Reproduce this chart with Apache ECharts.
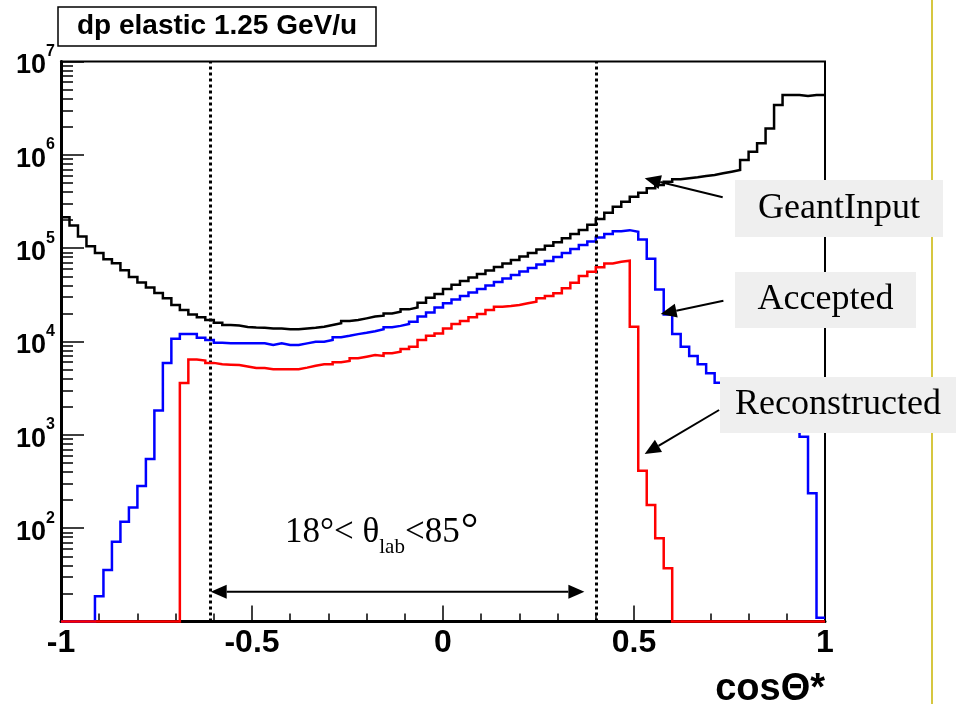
<!DOCTYPE html>
<html><head><meta charset="utf-8">
<script src="https://cdn.jsdelivr.net/npm/echarts@6/dist/echarts.min.js"></script>
<style>html,body{margin:0;padding:0;background:#fff}#c{width:956px;height:704px}</style>
</head><body><div id="c"></div>
<script>
// ---- data ----
const nBins = 90, xMin = -1, xMax = 1;
const yMin = 10, yMax = 1e7;
const titleText = 'dp elastic 1.25 GeV/u';
const xAxisTitle = 'cosΘ*';
const seriesNames = ['GeantInput', 'Accepted', 'Reconstructed'];
const cutLines = [-0.608, 0.403];
const geantInput = [
  2.15e5,1.75e5,1.33e5,1.05e5,8.9e4,7.6e4,6.9e4,5.8e4,4.9e4,4.3e4,
  3.8e4,3.3e4,2.9e4,2.46e4,2.17e4,1.95e4,1.82e4,1.70e4,1.59e4,1.50e4,
  1.48e4,1.43e4,1.41e4,1.40e4,1.38e4,1.38e4,1.35e4,1.35e4,1.38e4,1.40e4,
  1.44e4,1.50e4,1.57e4,1.66e4,1.70e4,1.77e4,1.85e4,1.89e4,2.00e4,2.09e4,
  2.21e4,2.32e4,2.60e4,2.95e4,3.23e4,3.65e4,4.05e4,4.45e4,4.85e4,5.29e4,
  5.77e4,6.29e4,6.85e4,7.47e4,8.15e4,8.88e4,9.68e4,1.06e5,1.16e5,1.28e5,
  1.42e5,1.57e5,1.78e5,2.05e5,2.40e5,2.78e5,3.15e5,3.56e5,3.93e5,4.38e5,
  4.75e5,5.16e5,5.47e5,5.61e5,5.74e5,5.93e5,6.08e5,6.34e5,6.60e5,6.88e5,
  8.8e5,1.08e6,1.33e6,1.92e6,3.42e6,4.37e6,4.37e6,4.27e6,4.37e6,4.37e6
];
const accepted = [
  0,0,0,0,18.7,35.6,71.7,117,167,283,
  551,1820,5870,1.07e4,1.20e4,1.20e4,1.10e4,1.04e4,9.7e3,9.55e3,
  9.55e3,9.55e3,9.55e3,9.55e3,9.16e3,9.55e3,9.16e3,9.16e3,9.55e3,9.95e3,
  9.95e3,1.04e4,1.11e4,1.15e4,1.20e4,1.24e4,1.29e4,1.35e4,1.42e4,1.47e4,
  1.54e4,1.63e4,1.85e4,2.05e4,2.32e4,2.57e4,2.81e4,3.07e4,3.35e4,3.65e4,
  3.98e4,4.34e4,4.73e4,5.16e4,5.62e4,6.13e4,6.68e4,7.28e4,8.04e4,8.87e4,
  9.79e4,1.08e5,1.18e5,1.30e5,1.42e5,1.52e5,1.56e5,1.50e5,1.24e5,7.7e4,
  3.6e4,1.95e4,1.20e4,8.8e3,7.0e3,5.7e3,4.56e3,3.62e3,3.2e3,2.9e3,
  2.6e3,2.4e3,2.2e3,2.0e3,1.8e3,1.6e3,1.3e3,955,236,11
];
const reconstructed = [
  0,0,0,0,0,0,0,0,0,0,
  0,0,0,0,3.6e3,6.4e3,6.25e3,5.9e3,5.7e3,5.65e3,
  5.6e3,5.4e3,5.2e3,5.2e3,5.05e3,5.05e3,5.05e3,5.05e3,5.25e3,5.5e3,
  5.69e3,5.69e3,5.98e3,6.2e3,6.6e3,6.88e3,7.16e3,7.0e3,7.48e3,7.78e3,
  8.3e3,8.8e3,1.04e4,1.15e4,1.22e4,1.38e4,1.54e4,1.66e4,1.82e4,1.97e4,
  2.17e4,2.36e4,2.40e4,2.46e4,2.57e4,2.67e4,2.90e4,3.07e4,3.28e4,3.72e4,
  4.27e4,5.03e4,5.6e4,6.24e4,6.87e4,7.16e4,7.34e4,1.44e4,413,177,
  77.8,37.2,0,0,0,0,0,0,0,0,
  0,0,0,0,0,0,0,0,0,0
];

// ---- helpers ----
function steps(vals) {
  const w = (xMax - xMin) / nBins, pts = [];
  vals.forEach((v, k) => {
    const y = Math.max(v, yMin);
    pts.push([xMin + k * w, y], [xMin + (k + 1) * w, y]);
  });
  return pts;
}
const minorLog = [];
for (let d = 1; d < 7; d++) for (let m = 2; m <= 9; m++) minorLog.push(Math.log10(m) + d);

const SANS = '"Liberation Sans", Arial, Helvetica, sans-serif';
const SERIF = '"Liberation Serif", "Times New Roman", serif';
const mctx = document.createElement('canvas').getContext('2d');
function tw(text, font) { mctx.font = font; return mctx.measureText(text).width; }

function arrowHead(x2, y2, ux, uy, len, hw) {
  const bx = x2 - ux * len, by = y2 - uy * len;
  return { type: 'polygon', z: 100, shape: { points: [[x2, y2], [bx - uy * hw, by + ux * hw], [bx + uy * hw, by - ux * hw]] }, style: { fill: '#000' } };
}
function arrow(x1, y1, x2, y2, both) {
  const len = 16, hw = 7;
  const dx = x2 - x1, dy = y2 - y1, L = Math.hypot(dx, dy), ux = dx / L, uy = dy / L;
  const els = [
    { type: 'line', z: 100, shape: { x1: both ? x1 + ux * len : x1, y1: both ? y1 + uy * len : y1, x2: x2 - ux * len, y2: y2 - uy * len }, style: { stroke: '#000', lineWidth: 2 } },
    arrowHead(x2, y2, ux, uy, len, hw)
  ];
  if (both) els.push(arrowHead(x1, y1, -ux, -uy, len, hw));
  return els;
}
function labelBox(x, y, w, h, text) {
  return [
    { type: 'rect', z: 100, shape: { x, y, width: w, height: h }, style: { fill: '#efefef' } },
    { type: 'text', z: 101, x: x + w / 2, y: y + h / 2, style: { text, fill: '#000', font: '36px ' + SERIF, align: 'center', verticalAlign: 'middle' } }
  ];
}
// angular-range annotation, built from measured pieces
function rangeText(x, yMid) {
  const fBig = '35px ' + SERIF, fSub = '21px ' + SERIF, fDeg = '44px ' + SERIF;
  const parts = [
    { t: '18°< θ', f: fBig, dy: 0 },
    { t: 'lab', f: fSub, dy: 14 },
    { t: '<85', f: fBig, dy: 0 },
    { t: '°', f: fDeg, dy: -2 }
  ];
  const els = [];
  let cx = x;
  parts.forEach(p => {
    els.push({ type: 'text', z: 101, x: cx, y: yMid + p.dy, style: { text: p.t, font: p.f, fill: '#000', align: 'left', verticalAlign: 'middle' } });
    cx += tw(p.t, p.f) + (p.t === '<85' ? 1 : 0);
  });
  return els;
}

const chart = echarts.init(document.getElementById('c'), null, { renderer: 'canvas' });
const lineSeries = (name, vals, color, extra) => Object.assign({
  name, type: 'line', data: steps(vals), xAxisIndex: 0, yAxisIndex: 0,
  showSymbol: false, symbol: 'none', clip: false, animation: false,
  lineStyle: { color, width: 2.5, join: 'miter' }
}, extra || {});

chart.setOption({
  animation: false,
  title: {
    text: titleText, left: 58, top: 7, padding: [5, 19],
    borderColor: '#000', borderWidth: 1.5, backgroundColor: '#fff',
    textStyle: { fontFamily: SANS, fontWeight: 'bold', fontSize: 28, lineHeight: 29, color: '#000' }
  },
  grid: {
    left: 61, right: 131, top: 61.5, bottom: 82.5, show: true, borderColor: '#000', borderWidth: 2,
    backgroundColor: 'transparent', containLabel: false, outerBoundsMode: 'none'
  },
  xAxis: [{
    type: 'value', min: xMin, max: xMax, interval: 0.5,
    axisLine: { onZero: false, lineStyle: { color: '#000', width: 3 } },
    axisTick: { inside: true, length: 16, lineStyle: { color: '#000', width: 1.5 } },
    minorTick: { show: true, splitNumber: 5, length: 8, lineStyle: { color: '#000', width: 1.5 } },
    splitLine: { show: false },
    axisLabel: { margin: 6, fontFamily: SANS, fontWeight: 'bold', fontSize: 32, color: '#000', formatter: v => String(Math.round(v * 10) / 10) }
  }],
  yAxis: [{
    type: 'log', logBase: 10, min: yMin, max: yMax, splitNumber: 6, position: 'left',
    axisLine: { onZero: false, lineStyle: { color: '#000', width: 3 } },
    axisTick: { inside: true, length: 23, lineStyle: { color: '#000', width: 1.5 } },
    splitLine: { show: false },
    axisLabel: {
      margin: 6, showMinLabel: false,
      formatter: v => { const e = Math.round(Math.log10(v)); return e <= 1 ? '' : '{b|10}{s|' + e + '}'; },
      rich: {
        b: { fontFamily: SANS, fontWeight: 'bold', fontSize: 27, color: '#000', lineHeight: 36, verticalAlign: 'bottom' },
        s: { fontFamily: SANS, fontWeight: 'bold', fontSize: 16, color: '#000', lineHeight: 18, verticalAlign: 'top' }
      }
    }
  }, {
    type: 'value', min: 1, max: 7, position: 'left',
    axisLine: { show: false, onZero: false }, splitLine: { show: false }, axisLabel: { show: false },
    axisTick: { show: true, inside: true, length: 12, customValues: minorLog, lineStyle: { color: '#000', width: 1.5 } }
  }],
  series: [
    lineSeries(seriesNames[0], geantInput, '#000', {
      z: 3,
      markLine: {
        silent: true, symbol: 'none', animation: false, label: { show: false },
        lineStyle: { color: '#000', type: [3, 3], width: 3 },
        data: cutLines.map(x => ({ xAxis: x }))
      }
    }),
    lineSeries(seriesNames[1], accepted, '#0000ff', { z: 4 }),
    lineSeries(seriesNames[2], reconstructed, '#ff0000', { z: 5 })
  ],
  graphic: [
    { type: 'line', z: 100, shape: { x1: 932, y1: 0, x2: 932, y2: 704 }, style: { stroke: '#c8b400', lineWidth: 1.5 } },
    { type: 'text', z: 101, x: 825, y: 690, style: { text: xAxisTitle, font: 'bold 38px ' + SANS, fill: '#000', align: 'right', verticalAlign: 'middle' } },
    ...labelBox(735, 180, 208, 57, seriesNames[0]),
    ...labelBox(735, 272, 181, 56, seriesNames[1]),
    ...labelBox(720, 377, 236, 56, seriesNames[2]),
    ...arrow(722.7, 197.3, 644.7, 178.3),
    ...arrow(723.4, 300.7, 660.6, 314),
    ...arrow(719.1, 410, 644.7, 454),
    ...arrow(210.7, 591.7, 584.4, 591.7, true),
    ...rangeText(285, 533)
  ]
});
</script>
</body></html>
